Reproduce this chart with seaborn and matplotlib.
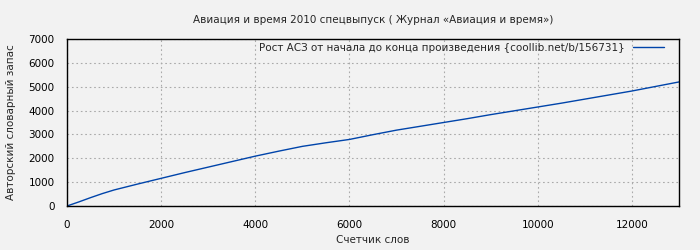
import matplotlib
matplotlib.use("Agg")
import matplotlib.pyplot as plt
import seaborn as sns
import pandas as pd

words = [0, 250, 500, 750, 1000, 1500, 2000, 2500, 3000, 3500, 4000, 4500, 5000, 5500, 6000,
         6500, 7000, 7500, 8000, 8500, 9000, 9500, 10000, 10500, 11000, 11500, 12000, 12500, 13000]
vocab = [0, 170, 350, 520, 672, 920, 1160, 1400, 1630, 1860, 2090, 2300, 2500, 2650, 2790,
         2990, 3180, 3340, 3500, 3660, 3830, 3990, 4150, 4310, 4480, 4650, 4820, 5010, 5200]
title = "Авиация и время 2010 спецвыпуск ( Журнал «Авиация и время»)"
series_label = "Рост АСЗ от начала до конца произведения {coollib.net/b/156731}"
xlabel = "Счетчик слов"
ylabel = "Авторский словарный запас"
xticks = [0, 2000, 4000, 6000, 8000, 10000, 12000]
yticks = [0, 1000, 2000, 3000, 4000, 5000, 6000, 7000]

sns.set_theme(style="white")
plt.rcParams['font.family'] = ['DejaVu Sans']

df = pd.DataFrame({"x": words, "y": vocab})

fig = plt.figure(figsize=(7, 2.5), dpi=100, facecolor="#f2f2f2")
ax = fig.add_axes([67/700, 1-206/250, (679-67)/700, (206-39)/250])
ax.set_facecolor("#f2f2f2")
sns.lineplot(data=df, x="x", y="y", ax=ax, color="#0044aa", linewidth=1.0, label=series_label)

ax.set_xlim(0, 13000)
ax.set_ylim(0, 7000)
ax.set_xticks(xticks)
ax.set_yticks(yticks)
ax.tick_params(axis="y", length=0, labelsize=7.5, colors="black", pad=9)
ax.tick_params(axis="x", length=0, labelsize=7.5, colors="black", pad=10)
ax.grid(True, color="#aaaaaa", linestyle=(0, (1.5, 2.5)), linewidth=0.8)
for s in ax.spines.values():
    s.set_color("black")
    s.set_linewidth(1.0)
ax.set_title(title, fontsize=7.5, pad=11.5)
ax.set_xlabel(xlabel, fontsize=7.5, labelpad=3.5)
ax.set_ylabel(ylabel, fontsize=7.5, labelpad=9)
leg = ax.legend(loc="upper right", frameon=False, fontsize=7.5, markerfirst=False,
                handlelength=3, borderaxespad=0, borderpad=0.1, handletextpad=0.8,
                bbox_to_anchor=(665/700, 1-42/250), bbox_transform=fig.transFigure)

fig.savefig("out.png", dpi=100, facecolor="#f2f2f2")
